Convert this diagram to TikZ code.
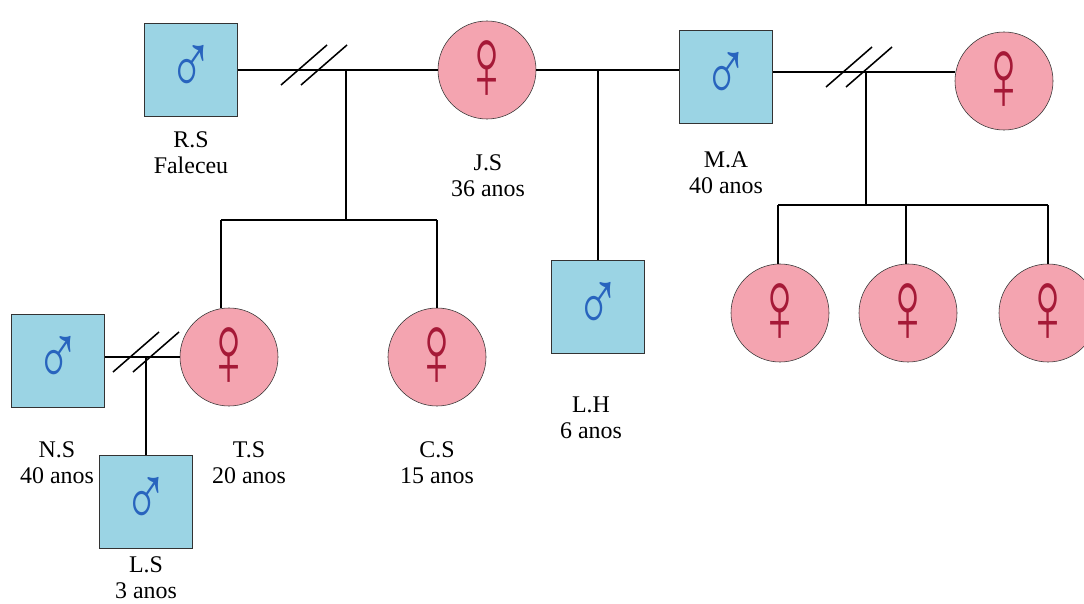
\documentclass[tikz,border=0pt]{standalone}
\usepackage{graphicx}
\usepackage{fontspec}
\setmainfont{Liberation Serif}
\newfontfamily\symfont{Liberation Sans}
\usetikzlibrary{calc}
\definecolor{maleblue}{RGB}{155,212,228}
\definecolor{femalepink}{RGB}{244,164,176}
\definecolor{marsblue}{RGB}{40,100,190}
\definecolor{venusred}{RGB}{165,25,55}
\newcommand{\mars}{\scalebox{0.8}[1.15]{♂}}
\newcommand{\venus}{\scalebox{0.75}[1.2]{♀}}
\tikzset{
    male/.style={rectangle, draw=black!80, fill=maleblue, minimum size=2.33cm,
    	inner sep=0pt, text=marsblue, font=\symfont\fontsize{54}{54}\selectfont},
    female/.style={circle, draw=black!80, fill=femalepink, minimum size=2.45cm,
    	inner sep=0pt, text=venusred, font=\symfont\fontsize{62}{62}\selectfont},
    tag/.style={align=center, font=\fontsize{17}{18.5}\selectfont},
    link/.style={line width=1.8pt},
    slash/.style={line width=1.1pt}
}
\newcommand{\cutmark}[1]{%
	\draw[slash] ($(#1)+(-28,15)$) -- ++(46,-40);
	\draw[slash] ($(#1)+(-8,15)$) -- ++(46,-40);}

\begin{document}
\begin{tikzpicture}[x=0.025cm, y=-0.025cm]
	\useasboundingbox (0,0) rectangle (1084,604);
	\node[male] (RS) at (191,70) {\mars};
	\node[female] (JS) at (487,70) {\venus};
	\node[male] (MA) at (726,77) {\mars};
	\node[female] (MW) at (1004,81) {\venus};
	\node[male] (LH) at (598,307) {\mars};
	\node[female] (TS) at (229,357) {\venus};
	\node[female] (CS) at (437,357) {\venus};
	\node[male] (NS) at (58,361) {\mars};
	\node[male] (LS) at (146,502) {\mars};
	\node[female] (D1) at (780,313) {\venus};
	\node[female] (D2) at (908,313) {\venus};
	\node[female] (D3) at (1048,313) {\venus};
	
	\node[tag] (RSt) at (191,153) {R.S\\Faleceu};
	\node[tag] (JSt) at (488,176) {J.S\\36 anos};
	\node[tag] (MAt) at (726,173) {M.A\\40 anos};
	\node[tag] (LHt) at (591,418) {L.H\\6 anos};
	\node[tag] (NSt) at (57,463) {N.S\\40 anos};
	\node[tag] (TSt) at (249,463) {T.S\\20 anos};
	\node[tag] (CSt) at (437,463) {C.S\\15 anos};
	\node[tag] (LSt) at (146,578) {L.S\\3 anos};
	
	\coordinate (c1) at (346,70); \coordinate (c1b) at (346,220);
	\coordinate (s1) at (221,220); \coordinate (s2) at (437,220);
	\coordinate (c2) at (598,70);
	\coordinate (c3) at (866,72); \coordinate (c3b) at (866,205);
	\coordinate (d1) at (778,205); \coordinate (d2) at (906,205);
	\coordinate (d3) at (1048,205);
	\coordinate (c4) at (146,357);
	
	\draw[link] (RS.east) -- (JS.west);
	\draw[link] (JS.east) -- (JS.east -| MA.west);
	\draw[link] (c3 -| MA.east) -- (c3 -| MW.west);
	\draw[link] (c1) -- (c1b); \draw[link] (s1) -- (s2);
	\draw[link] (s1) -- (s1 |- TS.north); \draw[link] (s2) -- (CS.north);
	\draw[link] (c2) -- (LH.north);
	\draw[link] (c3) -- (c3b); \draw[link] (d1) -- (d3);
	\draw[link] (d1) -- (d1 |- D1.north); \draw[link] (d2) -- (d2 |- D2.north);
	\draw[link] (d3) -- (D3.north);
	\draw[link] (c4 -| NS.east) -- (c4 -| TS.west); \draw[link] (c4) -- (LS.north);
	
	\cutmark{309,70} \cutmark{854,72} \cutmark{141,357}
\end{tikzpicture}
\end{document}
